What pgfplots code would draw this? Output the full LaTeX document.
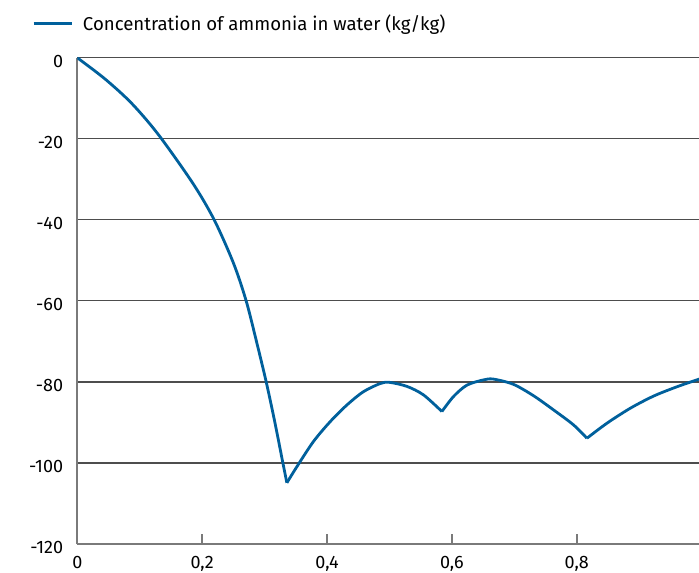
\documentclass[border=0pt]{standalone}
\usepackage{fontspec}
\setmainfont{Fira Sans}
\usepackage{pgfplots}
\pgfplotsset{compat=1.18}
\definecolor{curve}{HTML}{00609C}
\definecolor{gridc}{HTML}{4D4D4D}
\definecolor{axc}{HTML}{7A7A7A}
\begin{document}
\fontsize{18}{21}\selectfont
\begin{tikzpicture}
\useasboundingbox (0,0) rectangle (699pt,573pt);
\begin{axis}[
  at={(77.3pt,29pt)}, anchor=south west, scale only axis,
  width=624.3pt, height=486.2pt,
  xmin=0, xmax=1, ymin=-120, ymax=0,
  axis x line*=bottom, axis y line*=left,
  xtick={0,0.2,0.4,0.6,0.8}, ytick={-120,-100,...,0},
  ymajorgrids, major grid style={gridc, line width=1.2pt},
  axis line style={axc, line width=2.4pt},
  xtick style={axc, line width=2pt}, major tick length=10pt, tick align=inside,
  ytick style={draw=none},
  /pgf/number format/assume math mode=true, /pgf/number format/use comma,
  tick label style={font=\fontsize{18}{21}\selectfont},
  yticklabel style={inner sep=0pt, xshift=-14pt, yshift=-3.5pt},
  xticklabel style={inner sep=0pt, yshift=-12.5pt},
  legend style={draw=none, fill=none, at={(axis description cs:-0.0726,1.070)}, anchor=west,
    inner sep=0pt, nodes={inner sep=0pt}, /tikz/column sep=10pt, font=\fontsize{18.6}{22}\selectfont},
  legend image code/.code={\draw[#1] (0pt,0pt) -- (38pt,0pt);},
]
\addplot[curve, line width=2.8pt, line join=round, smooth] coordinates {
(0,0) (0.0442,-5.2) (0.0868,-11.2) (0.1296,-18.9) (0.1852,-31) (0.2193,-40)
(0.2502,-50.7) (0.2705,-60) (0.2870,-70) (0.3026,-80) (0.3165,-90) (0.3293,-100) (0.3357,-104.9)
};
\addlegendentry{Concentration of ammonia in water (kg/kg)}
\addplot[curve, line width=2.8pt, line join=round, smooth, forget plot] coordinates {
(0.3357,-104.9) (0.3518,-100.9) (0.3783,-94.7) (0.4051,-89.8) (0.4318,-85.7) (0.4584,-82.4)
(0.4852,-80.4) (0.5,-80.1) (0.528,-81.1) (0.5545,-83.2) (0.584,-87.3)
};
\addplot[curve, line width=2.8pt, line join=round, smooth, forget plot] coordinates {
(0.584,-87.3) (0.6026,-83.6) (0.624,-80.8) (0.6506,-79.5) (0.6667,-79.3) (0.6987,-80.6)
(0.7307,-83.4) (0.7628,-86.9) (0.7948,-90.6) (0.8163,-93.9)
};
\addplot[curve, line width=2.8pt, line join=round, smooth, forget plot] coordinates {
(0.8163,-93.9) (0.8483,-90.2) (0.8857,-86.5) (0.923,-83.5) (0.9604,-81.2) (0.9962,-79.3) (1,-79.1)
};
\end{axis}
\end{tikzpicture}
\end{document}
